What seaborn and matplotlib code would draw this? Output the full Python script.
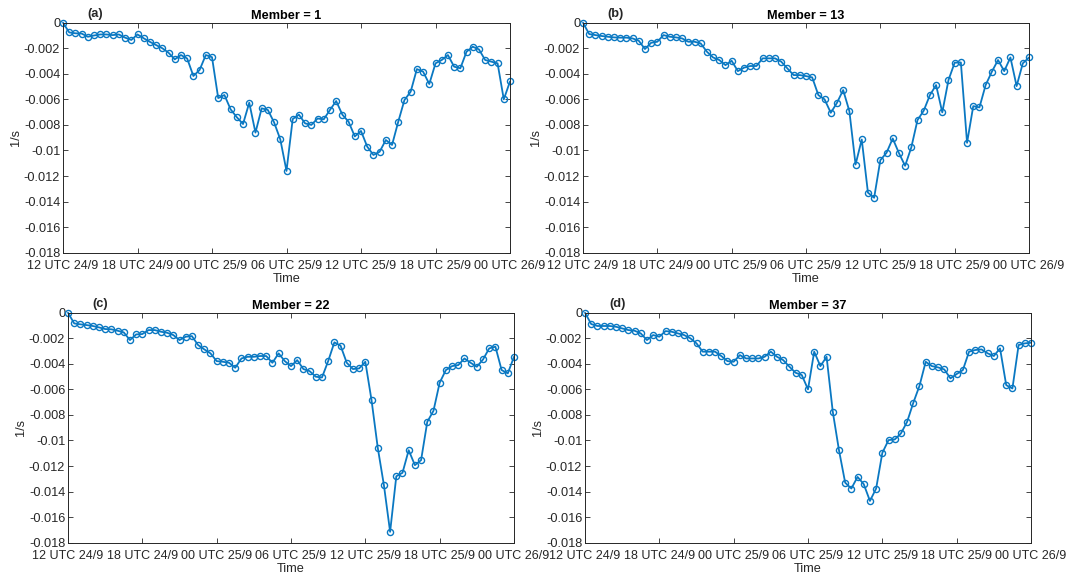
import numpy as np
import matplotlib
matplotlib.use('Agg')
import matplotlib.pyplot as plt
import seaborn as sns

# =========================
# Dados (unidades de 0.001 1/s), a cada 30 min
# =========================
horas = np.arange(73) * 0.5

membro_1 = [0, -0.76, -0.83, -0.85, -1.1, -1.0, -0.92, -0.92, -0.97, -0.92,
            -1.17, -1.35, -0.92, -1.22, -1.5, -1.75, -2.0, -2.35, -2.87, -2.53,
            -2.8, -4.17, -3.7, -2.53, -2.7, -5.9, -5.66, -6.78, -7.4, -7.93,
            -6.26, -8.6, -6.7, -6.83, -7.8, -9.13, -11.6, -7.54, -7.2, -7.88,
            -8.0, -7.5, -7.56, -6.83, -6.13, -7.2, -7.75, -8.9, -8.47, -9.7,
            -10.35, -10.1, -9.18, -9.57, -7.75, -6.05, -5.4, -3.63, -3.83, -4.8,
            -3.18, -2.92, -2.53, -3.44, -3.57, -2.27, -1.88, -2.09, -2.92, -3.05,
            -3.18, -6.0, -4.6]

membro_13 = [0, -0.89, -0.97, -1.04, -1.1, -1.15, -1.17, -1.17, -1.23, -1.41,
             -2.06, -1.57, -1.49, -0.97, -1.1, -1.15, -1.23, -1.49, -1.49, -1.62,
             -2.27, -2.72, -2.92, -3.32, -2.98, -3.79, -3.52, -3.39, -3.39, -2.79,
             -2.79, -2.79, -3.05, -3.58, -4.1, -4.1, -4.18, -4.28, -5.67, -6.0,
             -7.05, -6.27, -5.27, -6.92, -11.1, -9.14, -13.3, -13.7, -10.76, -10.18,
             -9.06, -10.2, -11.2, -9.76, -7.62, -6.89, -5.67, -4.88, -7.02, -4.49,
             -3.13, -3.11, -9.4, -6.53, -6.63, -4.88, -3.84, -2.92, -3.79, -2.72,
             -4.96, -3.18, -2.72]

membro_22 = [0, -0.84, -0.91, -0.97, -1.04, -1.15, -1.28, -1.3, -1.41, -1.54,
             -2.14, -1.7, -1.67, -1.36, -1.36, -1.49, -1.57, -1.75, -2.14, -1.88,
             -1.83, -2.53, -2.87, -3.18, -3.79, -3.84, -3.92, -4.31, -3.58, -3.45,
             -3.45, -3.39, -3.39, -3.92, -3.18, -3.79, -4.18, -3.71, -4.41, -4.57,
             -5.01, -5.07, -3.79, -2.32, -2.58, -3.92, -4.41, -4.36, -3.84, -6.84,
             -10.55, -13.5, -17.15, -12.8, -12.53, -10.76, -11.93, -11.54, -8.54, -7.68,
             -5.48, -4.49, -4.18, -4.1, -3.58, -3.92, -4.23, -3.66, -2.79, -2.66,
             -4.49, -4.75, -3.45]

membro_37 = [0, -0.89, -1.04, -1.04, -1.04, -1.1, -1.23, -1.36, -1.41, -1.62,
             -2.14, -1.75, -1.88, -1.44, -1.49, -1.62, -1.75, -2.0, -2.4, -3.05,
             -3.05, -3.05, -3.39, -3.79, -3.84, -3.32, -3.58, -3.58, -3.58, -3.45,
             -3.05, -3.45, -3.71, -4.23, -4.7, -4.88, -6.0, -3.05, -4.18, -3.45,
             -7.75, -10.76, -13.3, -13.76, -12.85, -13.42, -14.73, -13.76, -10.97, -9.97,
             -9.92, -9.45, -8.54, -7.05, -5.72, -3.84, -4.18, -4.28, -4.44, -5.14,
             -4.8, -4.49, -3.05, -2.92, -2.87, -3.18, -3.39, -2.79, -5.67, -5.93,
             -2.53, -2.4, -2.35]

membros = [1, 13, 22, 37]
letras = ['(a)', '(b)', '(c)', '(d)']
series = [membro_1, membro_13, membro_22, membro_37]

xticks_horas = [0, 6, 12, 18, 24, 30, 36]
xticks_rotulos = ['12 UTC 24/9', '18 UTC 24/9', '00 UTC 25/9', '06 UTC 25/9',
                  '12 UTC 25/9', '18 UTC 25/9', '00 UTC 26/9']
yticks_valores = [0, -0.002, -0.004, -0.006, -0.008, -0.01, -0.012, -0.014, -0.016, -0.018]
yticks_rotulos = ['0', '-0.002', '-0.004', '-0.006', '-0.008', '-0.01', '-0.012',
                  '-0.014', '-0.016', '-0.018']

# =========================
# Estilo
# =========================
sns.set_style('ticks')
plt.rcParams['font.family'] = ['Liberation Sans', 'DejaVu Sans']
plt.rcParams['xtick.direction'] = 'in'
plt.rcParams['ytick.direction'] = 'in'

cor = '#0a78c2'
cinza = '#262626'

fig = plt.figure(figsize=(10.69, 5.78), dpi=100)
posicoes = [
    [63 / 1069, (578 - 252.7) / 578, 447 / 1069, 230 / 578],
    [583 / 1069, (578 - 252.7) / 578, 446 / 1069, 230 / 578],
    [68 / 1069, (578 - 542.7) / 578, 446 / 1069, 230 / 578],
    [585 / 1069, (578 - 542.7) / 578, 446 / 1069, 230 / 578],
]

for pos, membro, letra, valores in zip(posicoes, membros, letras, series):
    ax = fig.add_axes(pos)
    y = np.array(valores) * 1e-3
    sns.lineplot(x=horas, y=y, ax=ax, color=cor, linewidth=1.3,
                 marker='o', markersize=4.4, markerfacecolor='none',
                 markeredgecolor=cor, markeredgewidth=1.0, clip_on=False)
    ax.set_xlim(0, 36)
    ax.set_ylim(-0.018, 0)
    ax.set_xticks(xticks_horas)
    ax.set_xticklabels(xticks_rotulos)
    ax.set_yticks(yticks_valores)
    ax.set_yticklabels(yticks_rotulos)
    ax.tick_params(top=True, right=True, length=3.5, width=0.6, colors=cinza)
    ax.tick_params(axis='x', pad=5, labelsize=9.0)
    ax.tick_params(axis='y', pad=2, labelsize=9.2)
    for s in ax.spines.values():
        s.set_linewidth(0.7)
        s.set_color(cinza)
    ax.set_xlabel('Time', fontsize=9.2, color=cinza, labelpad=1)
    ax.set_ylabel('1/s', fontsize=9.2, color=cinza, labelpad=1)
    ax.set_title(f'Member = {membro}', fontsize=9.2, fontweight='bold',
                 color='black', pad=3)
    ax.text(0.055, 1.012, letra, transform=ax.transAxes, fontsize=9.2,
            fontweight='bold', ha='left', va='bottom')

plt.savefig('out.png', dpi=100)
